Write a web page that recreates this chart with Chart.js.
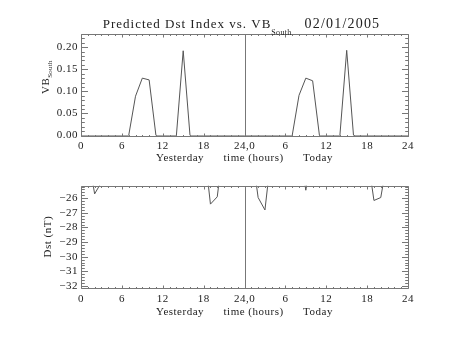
<!DOCTYPE html>
<html>
<head>
<meta charset="utf-8">
<title>Predicted Dst Index vs. VB South</title>
<script src="https://cdn.jsdelivr.net/npm/chart.js@4.4.1/dist/chart.umd.min.js"></script>
<style>
  html, body { margin: 0; padding: 0; background: #fff; }
  #wrap { position: relative; width: 453px; height: 340px; }
  canvas { position: absolute; left: 0; }
</style>
</head>
<body>
<div id="wrap">
  <canvas id="vbChart" width="453" height="170" style="top:0"></canvas>
  <canvas id="dstChart" width="453" height="170" style="top:170px"></canvas>
</div>
<script>
// hours since start of yesterday (0-24 yesterday, 24-48 today)
const hours = [0, 1, 2, 3, 4, 5, 6, 7, 8, 9, 10, 11, 12, 13, 14, 15, 16, 17, 18, 19, 20, 21, 22, 23,
               24, 25, 26, 27, 28, 29, 30, 31, 32, 33, 34, 35, 36, 37, 38, 39, 40, 41, 42, 43, 44, 45, 46, 47, 48];

// southward IMF component (VB South)
const vbSouth = [0, 0, 0, 0, 0, 0, 0, 0, 0.089, 0.130, 0.126, 0, 0, 0, 0, 0.192, 0, 0, 0, 0, 0, 0, 0, 0,
                 0, 0, 0, 0, 0, 0, 0, 0, 0.091, 0.130, 0.124, 0, 0, 0, 0, 0.193, 0, 0, 0, 0, 0, 0, 0, 0, 0];

// predicted Dst (nT)
const dstValues = [-22.0, -22.9, -25.7, -24.9, -22.5, -22.0, -21.8, -21.5, -21.9, -22.3, -22.6, -22.4,
                   -22.1, -21.7, -21.5, -21.9, -22.4, -22.8, -22.2, -26.4, -25.9, -22.1, -22.6, -22.3,
                   -22.0, -22.5, -25.95, -26.8, -22.7, -22.3, -21.9, -22.1, -22.4, -25.45, -22.3, -22.0,
                   -21.6, -21.8, -22.2, -22.5, -22.7, -22.4, -22.9, -26.15, -25.95, -23.3, -22.8, -22.5, -22.4];

// x axis tick labels
const hourTicks = [0, 6, 12, 18, 24, 30, 36, 42, 48];
const hourLabels = ['0', '6', '12', '18', '24,0', '6', '12', '18', '24'];

const FONT = 'Liberation Serif';
const INK = '#222';
const BOX = '#777';
const TRACE = '#555';

// IDL style frame: box, inward ticks on all four sides, midnight divider
const idlFrame = {
  id: 'idlFrame',
  beforeDraw(chart) {
    chart.ctx.letterSpacing = '0.5px';
  },
  afterDraw(chart, args, opts) {
    const { ctx, chartArea: a, scales: { x, y } } = chart;
    ctx.save();
    ctx.strokeStyle = BOX;
    ctx.lineWidth = 1;
    const L = Math.round(a.left) + 0.5, R = Math.round(a.right) + 0.5;
    const T = Math.round(a.top) + 0.5, B = Math.round(a.bottom) + 0.5;
    ctx.beginPath();
    ctx.rect(L, T, R - L, B - T);

    // midnight divider
    const mid = Math.round(x.getPixelForValue(24)) + 0.5;
    ctx.moveTo(mid, T);
    ctx.lineTo(mid, B);

    // hour ticks, long every 6 h
    for (let h = 0; h <= 48; h++) {
      const px = Math.round(x.getPixelForValue(h)) + 0.5;
      const len = h % 6 === 0 ? 3 : 1.5;
      ctx.moveTo(px, B); ctx.lineTo(px, B - len);
      ctx.moveTo(px, T); ctx.lineTo(px, T + len);
    }

    // y ticks
    const minor = opts.minorStep, major = opts.majorStep;
    for (let i = Math.ceil(y.min / minor - 1e-6); i * minor <= y.max + 1e-9; i++) {
      const v = i * minor;
      const isMajor = Math.abs(v / major - Math.round(v / major)) < 1e-6;
      const len = isMajor ? 6.5 : 3.3;
      const py = Math.round(y.getPixelForValue(v)) + 0.5;
      ctx.moveTo(L, py); ctx.lineTo(L + len, py);
      ctx.moveTo(R, py); ctx.lineTo(R - len, py);
    }
    ctx.stroke();

    ctx.fillStyle = INK;
    ctx.textBaseline = 'alphabetic';
    if (opts.heading) {
      // page heading with subscript
      const main = 'Predicted Dst Index vs. VB';
      const sub = 'South';
      const date = '02/01/2005';
      ctx.letterSpacing = '1px';
      ctx.font = '13px ' + FONT;
      const wMain = ctx.measureText(main).width;
      const wGap = 13;
      ctx.font = '14px ' + FONT;
      ctx.letterSpacing = '1.2px';
      const wDate = ctx.measureText(date).width;
      ctx.font = '8px ' + FONT;
      ctx.letterSpacing = '0.3px';
      const wSub = ctx.measureText(sub).width;
      let x0 = (a.left + a.right) / 2 - 3 - (wMain + wSub + wGap + wDate) / 2;
      ctx.textAlign = 'left';
      ctx.font = '13px ' + FONT; ctx.letterSpacing = '1px';
      ctx.fillText(main, x0, 28);
      ctx.font = '8px ' + FONT; ctx.letterSpacing = '0.3px';
      ctx.fillText(sub, x0 + wMain, 35);
      ctx.font = '14px ' + FONT; ctx.letterSpacing = '1.2px';
      ctx.fillText(date, x0 + wMain + wSub + wGap, 28);
    }
    if (opts.vbTitle) {
      // rotated y title VB with South subscript
      ctx.translate(49, 94);
      ctx.rotate(-Math.PI / 2);
      ctx.textAlign = 'left';
      ctx.font = '11px ' + FONT; ctx.letterSpacing = '0.5px';
      const wVB = ctx.measureText('VB').width;
      ctx.fillText('VB', 0, 0);
      ctx.font = '7px ' + FONT; ctx.letterSpacing = '0.2px';
      ctx.fillText('South', wVB, 3);
    }
    ctx.restore();
  }
};

function makePanel(canvasId, values, cfg) {
  return new Chart(document.getElementById(canvasId), {
    type: 'line',
    data: {
      datasets: [{
        data: hours.map((h, i) => ({ x: h, y: values[i] })),
        borderColor: TRACE,
        borderWidth: 1,
        pointRadius: 0,
        tension: 0,
        fill: false
      }]
    },
    plugins: [idlFrame],
    options: {
      responsive: false,
      animation: false,
      devicePixelRatio: 1,
      layout: { padding: { top: cfg.padTop, right: 45, left: 0, bottom: 0 } },
      plugins: {
        legend: { display: false },
        tooltip: { enabled: false },
        idlFrame: cfg.frame
      },
      scales: {
        x: {
          type: 'linear',
          min: 0,
          max: 48,
          afterBuildTicks: (scale) => { scale.ticks = hourTicks.map(v => ({ value: v })); },
          afterFit: (scale) => { scale.height = cfg.xHeight; },
          grid: { display: false, drawTicks: false },
          border: { display: false },
          ticks: {
            autoSkip: false,
            maxRotation: 0,
            padding: 4.5,
            color: INK,
            font: { family: FONT, size: 11 },
            callback: (v) => hourLabels[hourTicks.indexOf(v)]
          },
          title: {
            display: true,
            text: 'Yesterday      time (hours)      Today',
            color: INK,
            font: { family: FONT, size: 11 },
            padding: { top: 0, bottom: cfg.xTitlePad }
          }
        },
        y: {
          type: 'linear',
          min: cfg.yMin,
          max: cfg.yMax,
          afterFit: (scale) => { scale.width = 81; },
          grid: { display: false, drawTicks: false },
          border: { display: false },
          ticks: {
            stepSize: cfg.yStep,
            includeBounds: false,
            padding: 3,
            color: INK,
            font: { family: FONT, size: 11 },
            callback: cfg.yFormat
          },
          title: cfg.yTitle
        }
      }
    }
  });
}

makePanel('vbChart', vbSouth, {
  padTop: 34,
  xHeight: 34.5,
  xTitlePad: 5,
  yMin: 0,
  yMax: 0.23,
  yStep: 0.05,
  yFormat: (v) => v.toFixed(2),
  yTitle: { display: false },
  frame: { minorStep: 0.01, majorStep: 0.05, heading: true, vbTitle: true }
});

makePanel('dstChart', dstValues, {
  padTop: 15.7,
  xHeight: 52.3,
  xTitlePad: 21.4,
  yMin: -32.12,
  yMax: -25.14,
  yStep: 1,
  yFormat: (v) => '\u2212' + Math.abs(v),
  yTitle: {
    display: true,
    text: 'Dst (nT)',
    color: INK,
    font: { family: FONT, size: 11 },
    padding: { top: 42, bottom: 0 }
  },
  frame: { minorStep: 0.2, majorStep: 1, heading: false, vbTitle: false }
});
</script>
</body>
</html>
